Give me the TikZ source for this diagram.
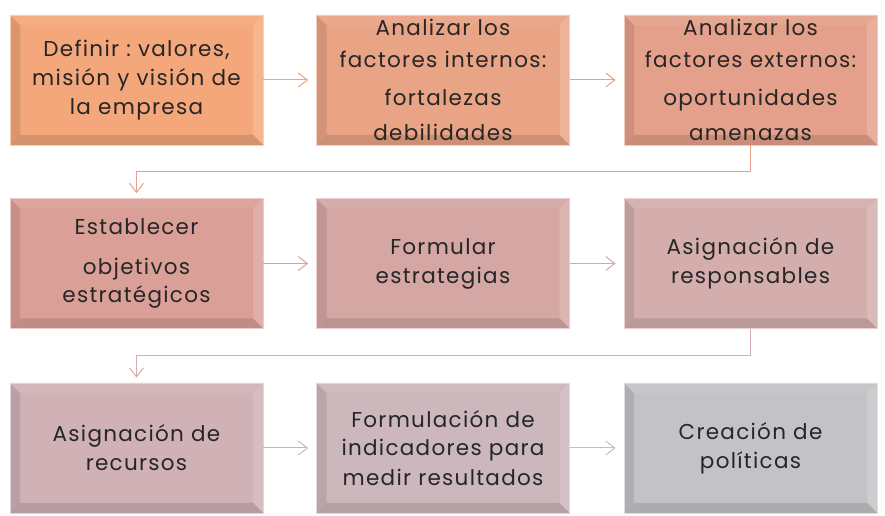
\documentclass[tikz,border=0pt]{standalone}
\usepackage{fontspec}
\setmainfont{Poppins}[LetterSpace=6]
\frenchspacing
\usetikzlibrary{calc,arrows.meta}
\definecolor{cA}{HTML}{F3A77A}
\definecolor{cB}{HTML}{E9A385}
\definecolor{cC}{HTML}{E4A08B}
\definecolor{cD}{HTML}{DAA098}
\definecolor{cE}{HTML}{D5A7A4}
\definecolor{cF}{HTML}{D3AEAD}
\definecolor{cG}{HTML}{CFB1B6}
\definecolor{cH}{HTML}{CBB7BC}
\definecolor{cI}{HTML}{C3C2C6}
\definecolor{txt}{HTML}{262626}
\definecolor{aA}{HTML}{F4A27C}
\definecolor{aB}{HTML}{EAA088}
\definecolor{aC}{HTML}{E8A08A}
\definecolor{aD}{HTML}{DFA09A}
\definecolor{aE}{HTML}{D6A8A8}
\definecolor{aF}{HTML}{D4ACAE}
\definecolor{aG}{HTML}{CFB2B8}
\definecolor{aH}{HTML}{C6BCC2}
\tikzset{
  bx/.style={rectangle, draw=#1!55!white, line width=0.8pt, fill=#1,
    minimum width=253pt, minimum height=130pt, inner sep=0pt,
    text width=250pt, align=center, text=txt,
    font=\fontsize{21.5pt}{29pt}\selectfont,
    path picture={
      \coordinate (sw) at (path picture bounding box.south west);
      \coordinate (ne) at (path picture bounding box.north east);
      \coordinate (nw) at (sw |- ne);
      \coordinate (se) at (ne |- sw);
      \fill[#1!90!black] (sw) -- ($(sw)+(10pt,10pt)$) -- ($(nw)+(10pt,-10pt)$) -- (nw) -- cycle;
      \fill[#1!94!white] (nw) -- ($(nw)+(10pt,-10pt)$) -- ($(ne)+(-10pt,-10pt)$) -- (ne) -- cycle;
      \fill[#1!84!white] (ne) -- ($(ne)+(-10pt,-10pt)$) -- ($(se)+(-10pt,10pt)$) -- (se) -- cycle;
      \fill[#1!88!black] (se) -- ($(se)+(-10pt,10pt)$) -- ($(sw)+(10pt,10pt)$) -- (sw) -- cycle;
    }},
  conn/.style={draw=#1, line width=1pt, -{Straight Barb[length=9pt,width=14pt]}},
}
\begin{document}
\begin{tikzpicture}[x=1pt,y=1pt]
\useasboundingbox (0,0) rectangle (885,516);
\node[bx=cA] (n1) at (136.5,436) {Definir : valores,\\ misión y visión de\\ la empresa};
\node[bx=cB] (n2) at (443,436) {Analizar los\\[3pt] factores internos:\\[9pt] fortalezas\\[6pt] debilidades};
\node[bx=cC] (n3) at (750.5,436) {Analizar los\\[3pt] factores externos:\\[9pt] oportunidades\\[6pt] amenazas};
\node[bx=cD] (n4) at (136.5,252.5) {Establecer\\[11pt] objetivos\\[-1pt] estratégicos};
\node[bx=cE] (n5) at (443,252.5) {Formular\\ estrategias};
\node[bx=cF] (n6) at (750.5,252.5) {Asignación de\\ responsables};
\node[bx=cG] (n7) at (136.5,68) {Asignación de\\ recursos};
\node[bx=cH] (n8) at (443,68) {Formulación de\\[-1pt] indicadores para\\[1pt] medir resultados};
\node[bx=cI] (n9) at (750.5,68) {Creación de\\ políticas};
\draw[conn=aA, shorten >=8pt] (n1.east) -- (n2.west);
\draw[conn=aB, shorten >=8pt] (n2.east) -- (n3.west);
\draw[conn=aC, shorten >=5pt] (n3.south) -- ($(n3.south)!0.5!(n6.north)$) -| (n4.north);
\draw[conn=aD, shorten >=8pt] (n4.east) -- (n5.west);
\draw[conn=aE, shorten >=8pt] (n5.east) -- (n6.west);
\draw[conn=aF, shorten >=5pt] (n6.south) -- ($(n6.south)!0.5!(n9.north)$) -| (n7.north);
\draw[conn=aG, shorten >=8pt] (n7.east) -- (n8.west);
\draw[conn=aH, shorten >=8pt] (n8.east) -- (n9.west);
\end{tikzpicture}
\end{document}
